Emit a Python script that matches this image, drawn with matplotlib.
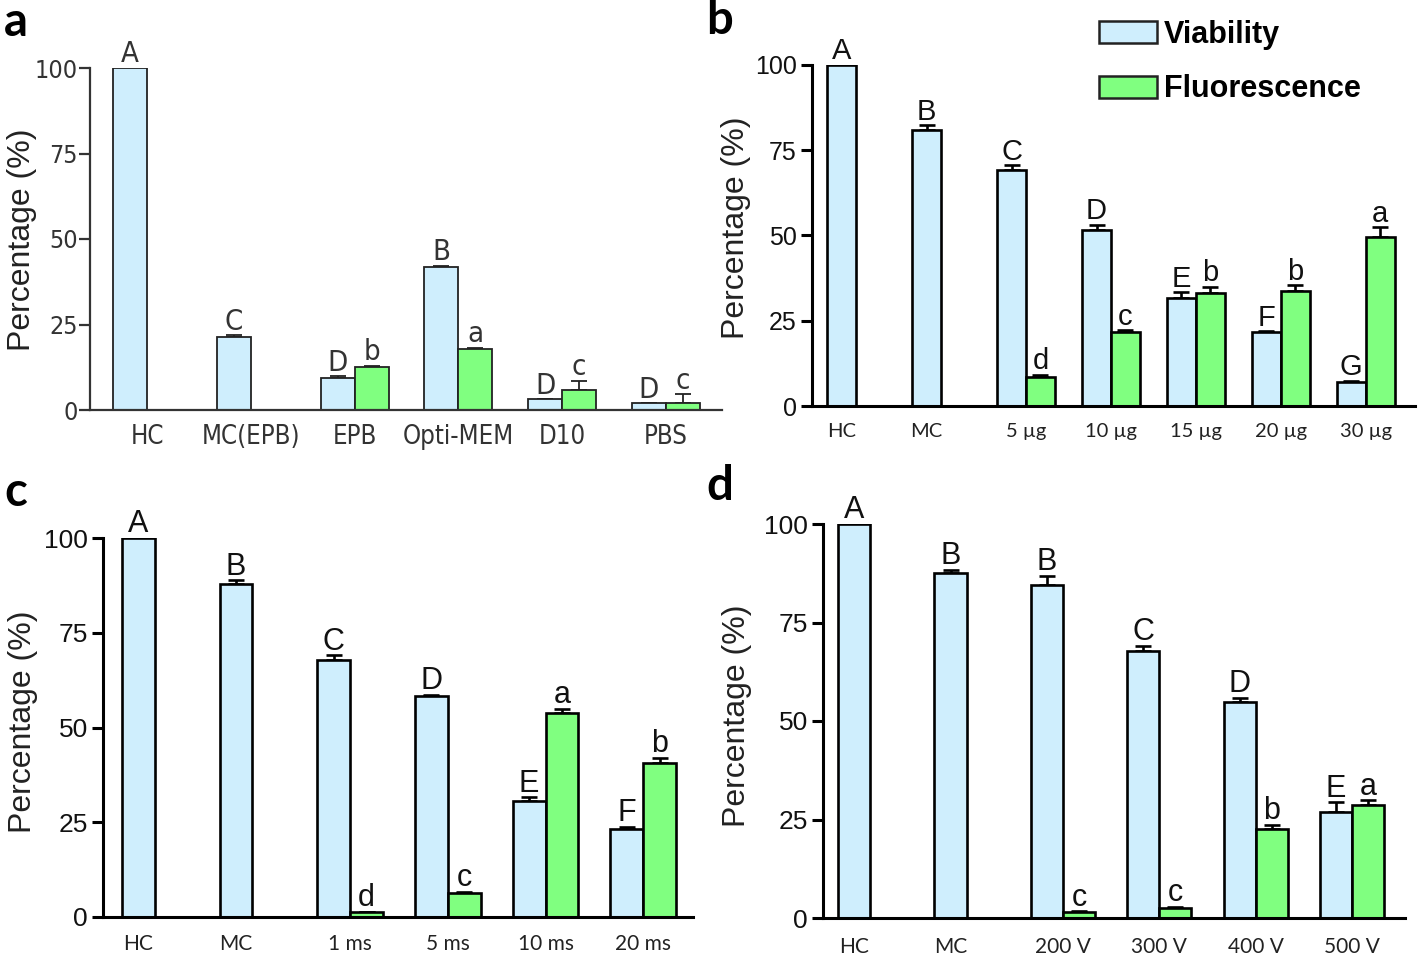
import numpy as np
import matplotlib
matplotlib.use("Agg")
import matplotlib.pyplot as plt
from matplotlib import font_manager
from matplotlib.font_manager import FontProperties
from matplotlib.patches import Patch
import os

nan = np.nan

# ---------------- data ----------------
a_categories = ["HC", "MC(EPB)", "EPB", "Opti-MEM", "D10", "PBS"]
a_viability = [100, 21.3, 9.4, 41.8, 3.2, 2.0]
a_viability_err = [0, 0.6, 0.5, 0.4, 0, 0]
a_fluorescence = [nan, nan, 12.5, 17.8, 5.8, 2.0]
a_fluorescence_err = [0, 0, 0.5, 0.4, 2.7, 2.6]
a_viability_letters = ["A", "C", "D", "B", "D", "D"]
a_fluorescence_letters = ["", "", "b", "a", "c", "c"]

b_categories = ["HC", "MC", "5 µg", "10 µg", "15 µg", "20 µg", "30 µg"]
b_viability = [100, 80.9, 69.2, 51.7, 31.6, 21.6, 7.1]
b_viability_err = [0, 1.4, 1.4, 1.4, 1.8, 0.3, 0.3]
b_fluorescence = [nan, nan, 8.6, 21.6, 33.0, 33.7, 49.5]
b_fluorescence_err = [0, 0, 0.5, 0.6, 1.9, 1.7, 2.9]
b_viability_letters = ["A", "B", "C", "D", "E", "F", "G"]
b_fluorescence_letters = ["", "", "d", "c", "b", "b", "a"]

c_categories = ["HC", "MC", "1 ms", "5 ms", "10 ms", "20 ms"]
c_viability = [100, 87.8, 67.7, 58.3, 30.6, 23.3]
c_viability_err = [0, 1.0, 1.4, 0.3, 1.0, 0.5]
c_fluorescence = [nan, nan, 1.2, 6.3, 53.7, 40.6]
c_fluorescence_err = [0, 0, 0.2, 0.3, 1.2, 1.4]
c_viability_letters = ["A", "B", "C", "D", "E", "F"]
c_fluorescence_letters = ["", "", "d", "c", "a", "b"]

d_categories = ["HC", "MC", "200 V", "300 V", "400 V", "500 V"]
d_viability = [100, 87.5, 84.5, 67.7, 54.9, 26.9]
d_viability_err = [0, 0.9, 2.3, 1.4, 1.0, 2.5]
d_fluorescence = [nan, nan, 1.5, 2.5, 22.7, 28.6]
d_fluorescence_err = [0, 0, 0.2, 0.3, 0.9, 1.3]
d_viability_letters = ["A", "B", "B", "C", "D", "E"]
d_fluorescence_letters = ["", "", "c", "c", "b", "a"]

y_ticks = [0, 25, 50, 75, 100]
series_names = ["Viability", "Fluorescence"]

# ---------------- style ----------------
W, H = 1418, 958
BLUE = "#CFEEFD"
GREEN = "#80FF80"

names = {f.name for f in font_manager.fontManager.ttflist}
SANS = "Liberation Sans"
CAL = "Lato" if "Lato" in names else "DejaVu Sans"

files = [f.fname for f in font_manager.fontManager.ttflist]


def find_file(keys_list):
    for keys in keys_list:
        for fn in files:
            b = os.path.basename(fn).lower()
            if all(k in b for k in keys):
                return fn
    return None


narrow_reg = find_file([["liberationsansnarrow-regular"], ["dejavusanscondensed."],
                        ["robotocondensed-regular"], ["opensans_condensed-regular"],
                        ["opensans-condensed"], ["condensed", "regular"]])


def fp_narrow(size):
    if narrow_reg:
        return FontProperties(fname=narrow_reg, size=size)
    return FontProperties(family=SANS, size=size * 0.88)


def fp(family, size, weight="normal"):
    return FontProperties(family=family, size=size, weight=weight)


fig = plt.figure(figsize=(W / 100, H / 100), dpi=100)


def add_axes(l, t, r, b):
    return fig.add_axes([l / W, 1 - b / H, (r - l) / W, (b - t) / H])


panels = [
    dict(box=(90, 68, 722, 410), xlim=(-0.55, 5.54), width=0.327,
         cats=a_categories, v=a_viability, ve=a_viability_err,
         f=a_fluorescence, fe=a_fluorescence_err,
         vl=a_viability_letters, fl=a_fluorescence_letters,
         lw=1.3, ec="#222222", spine="#333333",
         tickfp=fp_narrow(18), tickcol="#333333", ypad=1,
         xfp=fp_narrow(18.5), xcol="#333333",
         letfp=fp_narrow(21), letcol="#333333", center_single=True,
         xpad=10, ylab=(22, 240), tag="a", tagpos=(4, 36)),
    dict(box=(812, 65, 1415, 406), xlim=(-0.52, 6.58), width=0.34,
         cats=b_categories, v=b_viability, ve=b_viability_err,
         f=b_fluorescence, fe=b_fluorescence_err,
         vl=b_viability_letters, fl=b_fluorescence_letters,
         lw=1.9, ec="black", spine="black",
         tickfp=fp(SANS, 18), tickcol="#111111", ypad=3,
         xfp=fp(CAL, 14.5), xcol="#222222",
         letfp=fp(SANS, 21), letcol="#111111", center_single=False,
         xpad=12, ylab=(736, 228), tag="b", tagpos=(706, 34)),
    dict(box=(103, 538, 693, 917), xlim=(-0.53, 5.51), width=0.337,
         cats=c_categories, v=c_viability, ve=c_viability_err,
         f=c_fluorescence, fe=c_fluorescence_err,
         vl=c_viability_letters, fl=c_fluorescence_letters,
         lw=1.9, ec="black", spine="black",
         tickfp=fp(SANS, 19), tickcol="#111111", ypad=3,
         xfp=fp(CAL, 15), xcol="#222222",
         letfp=fp(SANS, 22), letcol="#111111", center_single=False,
         xpad=12, ylab=(23, 722), tag="c", tagpos=(4, 506)),
    dict(box=(823, 524, 1405, 918), xlim=(-0.49, 5.55), width=0.333,
         cats=d_categories, v=d_viability, ve=d_viability_err,
         f=d_fluorescence, fe=d_fluorescence_err,
         vl=d_viability_letters, fl=d_fluorescence_letters,
         lw=1.9, ec="black", spine="black",
         tickfp=fp(SANS, 19), tickcol="#111111", ypad=3,
         xfp=fp(CAL, 15), xcol="#222222",
         letfp=fp(SANS, 22), letcol="#111111", center_single=False,
         xpad=14, ylab=(737, 716), tag="d", tagpos=(706, 500)),
]

for p in panels:
    ax = add_axes(*p["box"])
    n = len(p["cats"])
    x = np.arange(n)
    w = p["width"]
    v = np.array(p["v"], dtype=float)
    f = np.array(p["f"], dtype=float)
    ve = np.array(p["ve"], dtype=float)
    fe = np.array(p["fe"], dtype=float)

    ax.bar(x - w / 2, v, w, color=BLUE, edgecolor=p["ec"], linewidth=p["lw"], zorder=2)
    fm = ~np.isnan(f)
    ax.bar(x[fm] + w / 2, f[fm], w, color=GREEN, edgecolor=p["ec"], linewidth=p["lw"], zorder=2)

    ax.errorbar(x - w / 2, v, yerr=[np.zeros(n), ve], fmt="none", ecolor=p["ec"],
                elinewidth=p["lw"], capsize=6, capthick=p["lw"], zorder=1)
    ax.errorbar(x[fm] + w / 2, f[fm], yerr=[np.zeros(fm.sum()), fe[fm]], fmt="none",
                ecolor=p["ec"], elinewidth=p["lw"], capsize=6, capthick=p["lw"], zorder=1)

    for i in range(n):
        ax.annotate(p["vl"][i], (x[i] - w / 2, v[i] + ve[i]), xytext=(0, 4),
                    textcoords="offset points", ha="center", va="baseline",
                    fontproperties=p["letfp"], color=p["letcol"], annotation_clip=False)
        if fm[i] and p["fl"][i]:
            ax.annotate(p["fl"][i], (x[i] + w / 2, f[i] + fe[i]), xytext=(0, 4),
                        textcoords="offset points", ha="center", va="baseline",
                        fontproperties=p["letfp"], color=p["letcol"], annotation_clip=False)

    ax.set_xlim(*p["xlim"])
    ax.set_ylim(0, 100)
    ax.set_yticks(y_ticks)
    ax.set_yticklabels([str(t) for t in y_ticks], fontproperties=p["tickfp"], color=p["tickcol"])
    if p["center_single"]:
        xt = x.astype(float)
    else:
        xt = np.where(fm, x, x - w / 2)
    ax.set_xticks(xt)
    ax.set_xticklabels(p["cats"], fontproperties=p["xfp"], color=p["xcol"])
    ax.tick_params(axis="x", length=0, pad=p["xpad"])
    ax.tick_params(axis="y", length=8, width=p["lw"] + 0.3, color=p["spine"], pad=p["ypad"])
    for s in ["top", "right"]:
        ax.spines[s].set_visible(False)
    for s in ["left", "bottom"]:
        ax.spines[s].set_linewidth(p["lw"] + 0.3)
        ax.spines[s].set_color(p["spine"])
    ax.patch.set_alpha(0)

    fig.text(p["ylab"][0] / W, 1 - p["ylab"][1] / H, "Percentage (%)", rotation=90,
             ha="center", va="center", fontsize=23, family=SANS, color="#222222")
    fig.text(p["tagpos"][0] / W, 1 - p["tagpos"][1] / H, p["tag"], ha="left",
             va="baseline", fontsize=34, fontweight="bold", family=CAL, color="black")

handles = [Patch(facecolor=BLUE, edgecolor="#222222", linewidth=1.8),
           Patch(facecolor=GREEN, edgecolor="#222222", linewidth=1.8)]
fig.legend(handles, series_names, loc="upper left",
           bbox_to_anchor=(1099 / W, 1 - 20 / H), frameon=False,
           prop=fp(SANS, 22, "bold"),
           handlelength=1.9, handleheight=0.72, handletextpad=0.22,
           labelspacing=0.8, borderaxespad=0, borderpad=0)

fig.savefig("out.png", dpi=100)
